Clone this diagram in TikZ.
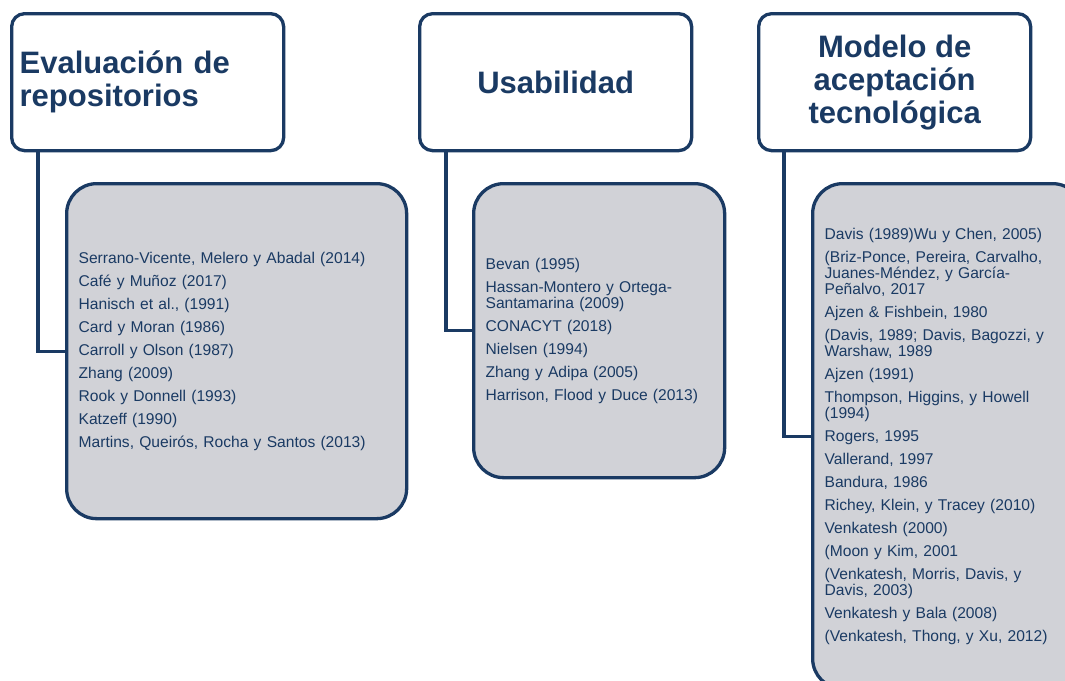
\documentclass[tikz,border=0pt]{standalone}
\usepackage{fontspec}
\setmainfont{Liberation Sans}
\definecolor{navy}{RGB}{26,58,99}
\definecolor{boxgray}{RGB}{209,210,215}
\begin{document}
\begin{tikzpicture}[x=1pt,y=-1pt,
  head/.style={draw=navy, line width=3.3pt, rounded corners=13pt, fill=white, minimum width=272pt, minimum height=137pt, anchor=north west, text=navy, font=\fontsize{31}{33}\selectfont\bfseries, inner sep=0pt},
  listbox/.style={draw=navy, line width=3.3pt, rounded corners=30pt, fill=boxgray, anchor=north west, text=navy, font=\fontsize{15.6}{16}\selectfont, align=left, inner xsep=12pt, inner ysep=0pt},
  link/.style={draw=navy, line width=3.3pt}]
\clip (0,0) rectangle (1065,680);
\fill[white] (0,0) rectangle (1065,680);

\node[head, text width=256pt, align=left] (h1) at (10,12) {Evaluación de\\repositorios};
\node[head, align=center] (h2) at (418,12) {Usabilidad};
\node[head, align=center] (h3) at (757,12) {Modelo de\\aceptación\\tecnológica};

\node[listbox, minimum width=340pt, minimum height=335pt, text width=316pt] (cA) at (65,182) {%
Serrano-Vicente, Melero y Abadal (2014)\\[7pt]
Café y Muñoz (2017)\\[7pt]
Hanisch et al., (1991)\\[7pt]
Card y Moran (1986)\\[7pt]
Carroll y Olson (1987)\\[7pt]
Zhang (2009)\\[7pt]
Rook y Donnell (1993)\\[7pt]
Katzeff (1990)\\[7pt]
Martins, Queirós, Rocha y Santos (2013)};

\node[listbox, minimum width=251pt, minimum height=294pt, text width=227pt] (cB) at (472,182) {%
Bevan (1995)\\[7pt]
Hassan-Montero y Ortega-\\
Santamarina (2009)\\[7pt]
CONACYT (2018)\\[7pt]
Nielsen (1994)\\[7pt]
Zhang y Adipa (2005)\\[7pt]
Harrison, Flood y Duce (2013)};

\node[listbox, minimum width=270pt, minimum height=505pt, text width=246pt] (cC) at (811,182) {%
Davis (1989)Wu y Chen, 2005)\\[7pt]
(Briz-Ponce, Pereira, Carvalho,\\
Juanes-Méndez, y García-\\
Peñalvo, 2017\\[7pt]
Ajzen \& Fishbein, 1980\\[7pt]
(Davis, 1989; Davis, Bagozzi, y\\
Warshaw, 1989\\[7pt]
Ajzen (1991)\\[7pt]
Thompson, Higgins, y Howell\\
(1994)\\[7pt]
Rogers, 1995\\[7pt]
Vallerand, 1997\\[7pt]
Bandura, 1986\\[7pt]
Richey, Klein, y Tracey (2010)\\[7pt]
Venkatesh (2000)\\[7pt]
(Moon y Kim, 2001\\[7pt]
(Venkatesh, Morris, Davis, y\\
Davis, 2003)\\[7pt]
Venkatesh y Bala (2008)\\[7pt]
(Venkatesh, Thong, y Xu, 2012)};

\draw[link] ([xshift=28pt]h1.south west) |- (cA.west);
\draw[link] ([xshift=28pt]h2.south west) |- (cB.west);
\draw[link] ([xshift=27pt]h3.south west) |- (cC.west);
\end{tikzpicture}
\end{document}
